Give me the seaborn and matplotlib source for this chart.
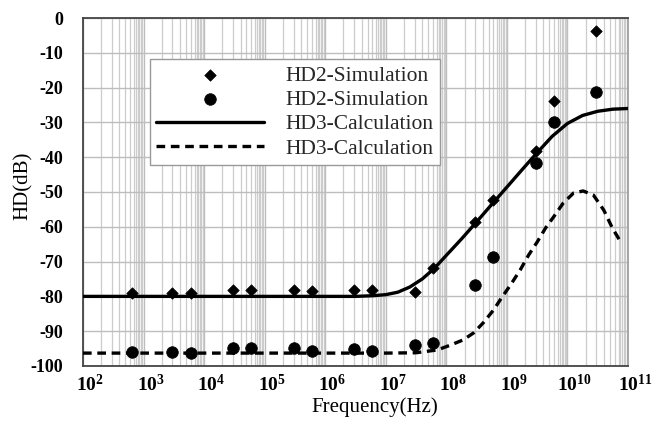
import numpy as np
import pandas as pd
import seaborn as sns
import matplotlib
matplotlib.use("Agg")
import matplotlib.pyplot as plt
from matplotlib.ticker import LogLocator, FixedLocator, NullFormatter
from matplotlib.transforms import ScaledTranslation

# simulation points (Hz, dB)
sim_freq = [6.5e2, 3e3, 6e3, 3e4, 6e4, 3e5, 6e5, 3e6, 6e6, 3e7, 6e7, 3e8, 6e8, 3e9, 6e9, 3e10]
hd2_sim_a = [-78.9, -78.9, -78.9, -78.2, -78.2, -78.2, -78.4, -78.2, -78.2, -78.7, -71.8,
             -58.6, -52.3, -38.2, -23.9, -3.7]
hd2_sim_b = [-96.0, -96.1, -96.4, -94.9, -94.9, -94.9, -95.6, -95.2, -95.6, -94.0, -93.4,
             -76.7, -68.7, -41.7, -29.9, -21.3]

# calculated curves
calc_a_freq = [1e2, 1e3, 1e4, 1e5, 1e6, 3.16e6, 6.3e6, 1e7, 1.58e7, 2.5e7, 4e7, 6.3e7, 1e8,
               1.78e8, 3.16e8, 5.6e8, 1e9, 1.78e9, 3.16e9, 5.6e9, 1e10, 1.78e10, 3.16e10,
               5.6e10, 1e11]
hd3_calc_a = [-80.0, -80.0, -80.0, -80.0, -80.0, -80.0, -79.8, -79.5, -78.8, -77.3, -75.0,
              -72.0, -68.2, -63.5, -58.6, -53.6, -48.6, -43.6, -38.7, -34.0, -30.3, -28.0,
              -26.8, -26.2, -26.0]
calc_b_freq = [1e2, 1e4, 1e6, 1e7, 3.16e7, 7.08e7, 1.17e8, 1.9e8, 2.82e8, 4.07e8, 6.03e8,
               8.32e8, 1.15e9, 1.66e9, 2.29e9, 3.16e9, 4.37e9, 5.89e9, 8.51e9, 1.26e10,
               1.82e10, 2.69e10, 3.98e10, 5.5e10, 7.59e10]
hd3_calc_b = [-96.3, -96.3, -96.3, -96.3, -96.2, -95.4, -94.0, -92.5, -90.5, -87.6, -83.9,
              -80.2, -76.7, -72.4, -68.1, -64.4, -60.3, -57.2, -53.2, -50.3, -49.7, -50.9,
              -55.2, -60.3, -64.4]

decades = [1e2, 1e3, 1e4, 1e5, 1e6, 1e7, 1e8, 1e9, 1e10, 1e11]
decade_labels = [r"$\mathbf{10^{%d}}$" % n for n in range(2, 12)]
db_ticks = list(range(-100, 1, 10))

sim_df = pd.DataFrame({"f": sim_freq, "a": hd2_sim_a, "b": hd2_sim_b})
calc_a_df = pd.DataFrame({"f": calc_a_freq, "v": hd3_calc_a})
calc_b_df = pd.DataFrame({"f": calc_b_freq, "v": hd3_calc_b})

sns.set_theme(style="white")
plt.rcParams["font.family"] = ["Liberation Serif", "DejaVu Serif"]
plt.rcParams["mathtext.fontset"] = "custom"
plt.rcParams["mathtext.rm"] = "Liberation Serif"
plt.rcParams["mathtext.it"] = "Liberation Serif:italic"
plt.rcParams["mathtext.bf"] = "Liberation Serif:bold"
plt.rcParams["axes.unicode_minus"] = False

fig = plt.figure(figsize=(6.56, 4.23), dpi=100)
ax = fig.add_axes([0.1265, 0.1348, 0.8308, 0.8226])
ax.set_xscale("log")

sns.scatterplot(data=sim_df, x="f", y="a", marker="D", s=34, color="black", edgecolor="black",
                linewidth=0.5, label="HD2-Simulation", ax=ax, zorder=4)
sns.scatterplot(data=sim_df, x="f", y="b", marker="o", s=70, color="black", edgecolor="black",
                linewidth=0.5, label="HD2-Simulation", ax=ax, zorder=4)
sns.lineplot(data=calc_a_df, x="f", y="v", color="black", lw=2.4, errorbar=None,
             label="HD3-Calculation", ax=ax, zorder=3)
sns.lineplot(data=calc_b_df, x="f", y="v", color="black", lw=2.4, errorbar=None,
             linestyle=(0, (2.6, 1.7)), label="HD3-Calculation", ax=ax, zorder=3)

ax.set_xlim(1e2, 1e11)
ax.set_ylim(-100, 0)
ax.xaxis.set_major_locator(FixedLocator(decades))
ax.set_xticklabels(decade_labels)
ax.xaxis.set_minor_locator(LogLocator(base=10, subs=[2, 3, 4, 5, 6, 7, 7.5, 8, 8.5, 9, 9.5], numticks=40))
ax.xaxis.set_minor_formatter(NullFormatter())
ax.set_yticks(db_ticks)
for lab in ax.get_yticklabels():
    lab.set_fontweight("bold")

ax.set_axisbelow(True)
ax.grid(which="major", axis="both", color="#bdbdbd", lw=1.0)
ax.grid(which="minor", axis="x", color="#cccccc", lw=0.9)
ax.tick_params(which="both", length=0)
ax.tick_params(axis="y", pad=14.5, labelsize=13, colors="black")
ax.tick_params(axis="x", pad=6, labelsize=14, colors="black")

for lab in ax.get_xticklabels():
    lab.set_transform(lab.get_transform() + ScaledTranslation(7 / 100, 0, fig.dpi_scale_trans))

for side, col in [("top", "#444444"), ("left", "#444444"), ("bottom", "#444444"), ("right", "#a0a0a0")]:
    ax.spines[side].set_visible(True)
    ax.spines[side].set_color(col)
    ax.spines[side].set_linewidth(1.3)

ax.set_xlabel("Frequency(Hz)", fontsize=15, color="black")
ax.set_ylabel("HD(dB)", fontsize=15, color="black")
ax.xaxis.set_label_coords(0.536, -0.089)
ax.yaxis.set_label_coords(-0.092, 0.517)

handles, labels = ax.get_legend_handles_labels()
leg = ax.legend(handles, labels, loc="upper left", bbox_to_anchor=(0.123, 0.882), fontsize=15.5,
                frameon=True, fancybox=False, edgecolor="#999999", framealpha=1,
                borderpad=0.3, labelspacing=0.2, handlelength=5.0, handletextpad=1.0,
                borderaxespad=0, scatterpoints=1)
leg.get_frame().set_linewidth(1.0)

fig.savefig("out.png", dpi=100)
